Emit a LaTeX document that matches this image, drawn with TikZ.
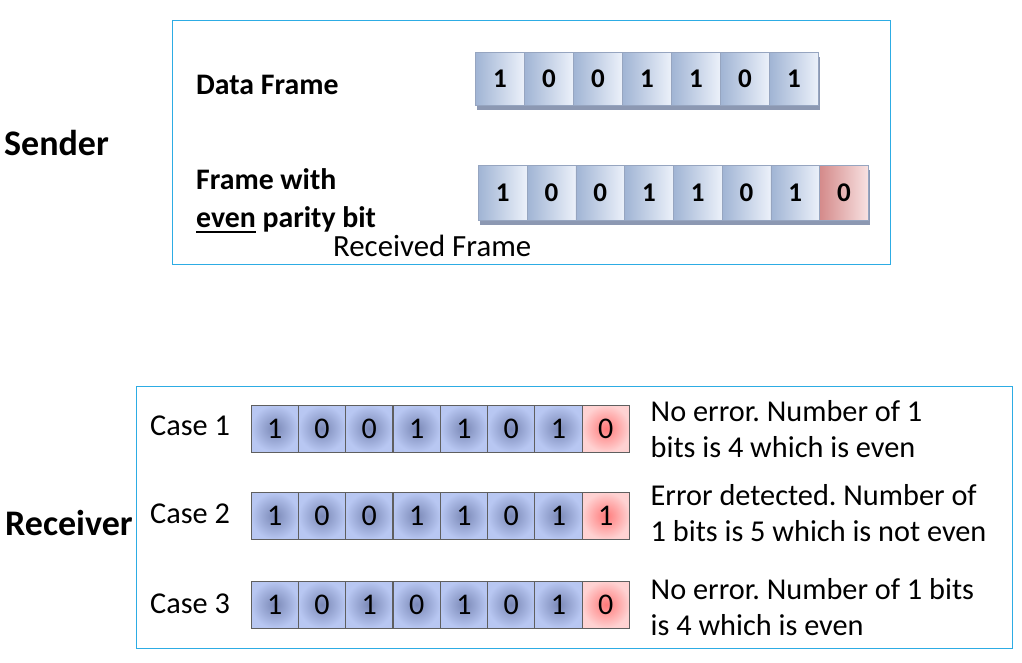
\documentclass[tikz,border=0pt]{standalone}
\usepackage{fontspec}
\setmainfont{Carlito}
\frenchspacing
\definecolor{boxblue}{RGB}{45,172,228}
\definecolor{ublueL}{RGB}{160,180,212}
\definecolor{ublueR}{RGB}{236,241,250}
\definecolor{uredL}{RGB}{212,138,138}
\definecolor{uredR}{RGB}{248,226,226}
\definecolor{ushadow}{RGB}{140,152,178}
\definecolor{uborder}{RGB}{150,165,192}
\definecolor{lblueIn}{RGB}{122,136,182}
\definecolor{lblueOut}{RGB}{184,199,242}
\definecolor{lredIn}{RGB}{255,122,122}
\definecolor{lredOut}{RGB}{255,210,210}
\definecolor{lborder}{RGB}{95,95,95}
\newcommand{\myul}[1]{\setbox0\hbox{#1}\rlap{\rule[-6pt]{\wd0}{1.8pt}}\box0}
\tikzset{
  frame/.style={draw=boxblue, line width=1.4},
  biglabel/.style={font=\fontsize{36}{40}\selectfont\bfseries, inner sep=0, anchor=base west},
  txt/.style={font=\fontsize{30.3}{36}\selectfont, inner sep=0},
  btxt/.style={font=\fontsize{29.8}{38}\selectfont\bfseries, inner sep=0},
  ucell/.style={draw=uborder, line width=0.7, inner sep=0, anchor=north west,
    minimum width=49, minimum height=53, left color=ublueL, right color=ublueR,
    font=\fontsize{27}{27}\selectfont\bfseries,
    preaction={fill=ushadow, transform canvas={xshift=2pt, yshift=-5pt}}},
  ucellred/.style={ucell, left color=uredL, right color=uredR},
  lcell/.style={draw=lborder, line width=1.1, inner sep=0, anchor=north west,
    minimum width=47.3, minimum height=47, inner color=lblueIn, outer color=lblueOut,
    font=\fontsize{30}{30}\selectfont},
  lcellred/.style={lcell, inner color=lredIn, outer color=lredOut},
}
\begin{document}
\begin{tikzpicture}[x=1pt, y=-1pt]
\useasboundingbox (0,0) rectangle (1022,662);
\fill[white] (0,0) rectangle (1022,662);

% sender box
\node[frame, inner sep=0, anchor=north west, minimum width=718, minimum height=244] (senderbox) at (172,20) {};
\node[biglabel] (sender) at (4,155) {Sender};
\node[btxt, anchor=west] (datalabel) at (196,85) {Data Frame};
\node[btxt, anchor=base west] (paritylabel) at (196,227)
  {\begin{tabular}[b]{@{}l@{}}Frame with\\\myul{even}\ parity bit\end{tabular}};
\node[txt, anchor=west, font=\fontsize{30.8}{36}\selectfont] (received) at (333,246) {Received Frame};

\foreach \b [count=\i] in {1,0,0,1,1,0,1}
  \node[ucell] (df\i) at ({475+49*(\i-1)},52) {\b};
\foreach \b [count=\i] in {1,0,0,1,1,0,1}
  \node[ucell, minimum width=48.75, minimum height=55] (pf\i) at ({478+48.75*(\i-1)},165) {\b};
\node[ucellred, minimum width=48.75, minimum height=55] (pf8) at ({478+48.75*7},165) {0};

% receiver box
\node[frame, inner sep=0, anchor=north west, minimum width=876, minimum height=262] (receiverbox) at (136,386) {};
\node[biglabel] (receiver) at (5,535) {Receiver};

\node[txt, anchor=base west] (case1) at (150,435) {Case 1};
\node[txt, anchor=base west] (case2) at (150,523) {Case 2};
\node[txt, anchor=base west] (case3) at (150,613) {Case 3};

\foreach \b [count=\i] in {1,0,0,1,1,0,1}
  \node[lcell] (ca\i) at ({250.5+47.3*(\i-1)},404.5) {\b};
\node[lcellred] (ca8) at ({250.5+47.3*7},404.5) {0};
\foreach \b [count=\i] in {1,0,0,1,1,0,1}
  \node[lcell] (cb\i) at ({250.5+47.3*(\i-1)},492) {\b};
\node[lcellred] (cb8) at ({250.5+47.3*7},492) {1};
\foreach \b [count=\i] in {1,0,1,0,1,0,1}
  \node[lcell] (cc\i) at ({250.5+47.3*(\i-1)},580.5) {\b};
\node[lcellred] (cc8) at ({250.5+47.3*7},580.5) {0};

\node[txt, anchor=base west] (desc1) at (650.5,457)
  {\begin{tabular}[b]{@{}l@{}}No error. Number of 1\\bits is 4 which is even\end{tabular}};
\node[txt, anchor=base west] (desc2) at (650.5,541)
  {\begin{tabular}[b]{@{}l@{}}Error detected. Number of\\1 bits is 5 which is not even\end{tabular}};
\node[txt, anchor=base west] (desc3) at (650.5,635)
  {\begin{tabular}[b]{@{}l@{}}No error. Number of 1 bits\\is 4 which is even\end{tabular}};
\end{tikzpicture}
\end{document}
